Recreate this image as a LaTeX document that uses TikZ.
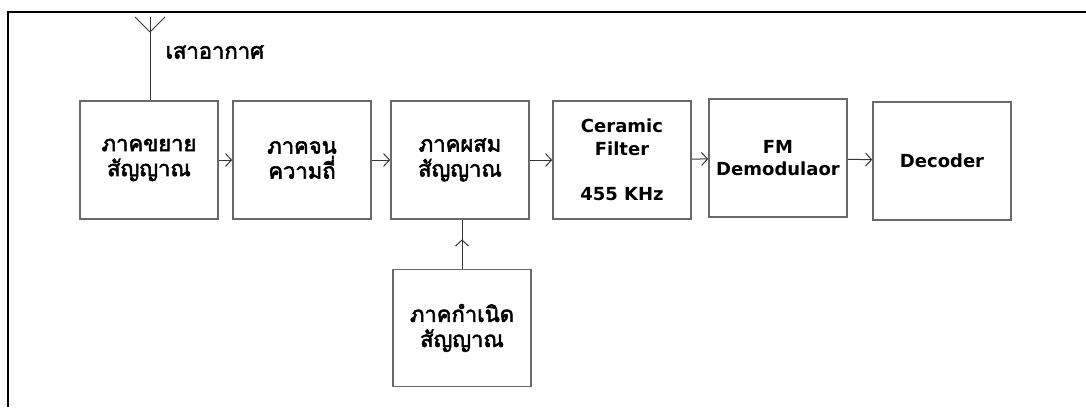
\documentclass[tikz,border=0pt]{standalone}
\usepackage{fontspec}
\setmainfont{DejaVu Sans}
\newfontfamily\thaifont[Script=Thai,AutoFakeBold=2.5]{Loma}
\definecolor{boxgray}{RGB}{105,105,105}
\definecolor{linegray}{RGB}{55,55,55}
\usetikzlibrary{arrows.meta,decorations.markings}

\begin{document}
\begin{tikzpicture}[x=1pt,y=-1pt,
    >={Straight Barb[length=6pt,width=13pt]},
    block/.style={draw=boxgray,line width=1.6pt,minimum width=138pt,minimum height=118pt,
        inner sep=0pt,align=center,font=\bfseries\fontsize{18}{22.5}\selectfont},
    thai/.style={font=\thaifont\bfseries\fontsize{22}{25}\selectfont},
    link/.style={draw=linegray,line width=1pt},
    midarrow/.style={postaction={decorate},decoration={markings,mark=at position 0.6 with {\arrow{>}}}}]
    \useasboundingbox (0,0) rectangle (1086,407);

    % page frame
    \draw[black,line width=1.5pt] (8,407) -- (8,12) -- (1086,12);

    % receiver chain
    \node[block,thai] (amp) at (149,160) {ภาคขยาย\\สัญญาณ};
    \node[block,thai] (tune) at (302,160) {ภาคจน\\ความถี่};
    \node[block,thai] (mix) at (460,160) {ภาคผสม\\สัญญาณ};
    \node[block] (filt) at (622,160) {Ceramic\\Filter\\[22.5pt]455 KHz};
    \node[block] (demod) at (778,158) {FM\\Demodulaor};
    \node[block] (dec) at (942,161) {Decoder};
    \node[block,thai,minimum height=117pt] (osc) at (462,328) {ภาคกำเนิด\\สัญญาณ};

    % antenna
    \coordinate (anttop) at (150,17);
    \coordinate (antjoin) at (150,32);
    \draw[link] (amp.north -| anttop) -- (anttop);
    \draw[link] (135,17) -- (antjoin) -- (165,17);
    \node[thai,anchor=west] (antlabel) at (162,52) {เสาอากาศ};

    % signal flow
    \draw[link,->] (amp) -- (tune);
    \draw[link,->] (tune) -- (mix);
    \draw[link,->] (mix) -- (filt);
    \draw[link,->] (filt) -- (demod);
    \draw[link,->] (demod) -- (dec);
    \draw[link,midarrow] (osc.north) -- (osc.north |- mix.south);
\end{tikzpicture}
\end{document}
